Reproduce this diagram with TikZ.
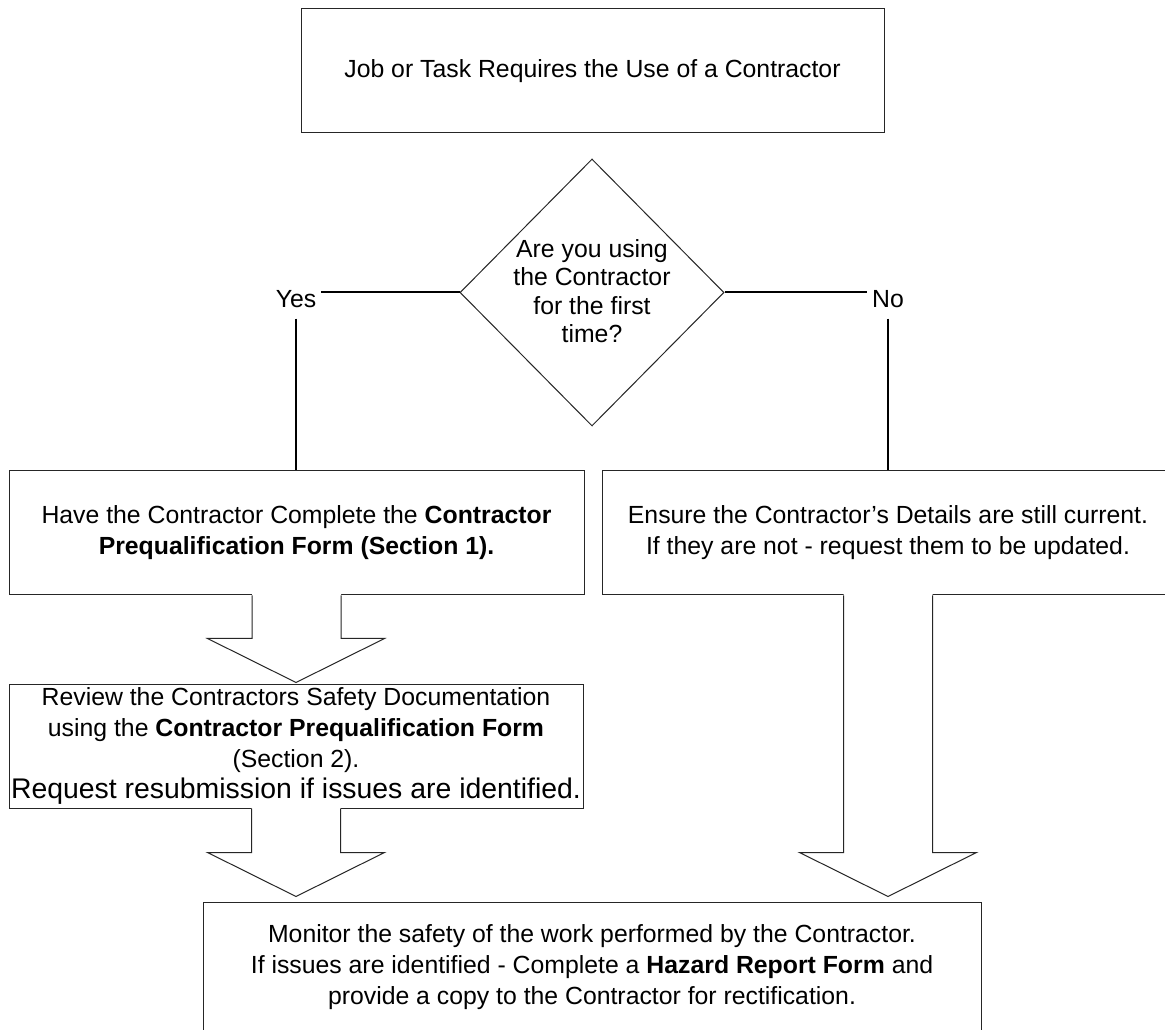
\documentclass[tikz,border=0pt]{standalone}
\usepackage{fontspec}
\setmainfont{Liberation Sans}
\usetikzlibrary{shapes.geometric,calc}
\newcommand{\mainsize}{\fontsize{18.6pt}{23.25pt}\selectfont}
\tikzset{
  box/.style={draw=black!85, line width=0.75pt, fill=white, align=center, inner sep=0pt, font=\mainsize},
  decision/.style={diamond, draw=black!85, line width=0.75pt, inner sep=0pt, minimum width=198pt, minimum height=200.25pt},
  qtext/.style={align=center, font=\fontsize{18.6pt}{21.4pt}\selectfont},
  conn/.style={draw=black, line width=1.5pt},
  lbl/.style={inner xsep=3.75pt, inner ysep=7.5pt, font=\mainsize},
  barrow/.style={draw=black!85, line width=0.75pt, line join=miter},
}
\newcommand{\blockarrow}[2]{%
  \path (#1) coordinate (ba-t) (#2) coordinate (ba-p);
  \path ($(ba-p)+(0,-44)$) coordinate (ba-h);
  \path (ba-t |- ba-h) coordinate (ba-s);
  \fill[white] ($(ba-t)+(-44.5,-1.5)$) -- ($(ba-s)+(-44.5,0)$) -- ($(ba-h)+(-88.5,0)$) -- (ba-p)
     -- ($(ba-h)+(88.5,0)$) -- ($(ba-s)+(44.5,0)$) -- ($(ba-t)+(44.5,-1.5)$) -- cycle;
  \draw[barrow] ($(ba-t)+(-44.5,0)$) -- ($(ba-s)+(-44.5,0)$) -- ($(ba-h)+(-88.5,0)$) -- (ba-p)
     -- ($(ba-h)+(88.5,0)$) -- ($(ba-s)+(44.5,0)$) -- ($(ba-t)+(44.5,0)$);
}
\begin{document}
\begin{tikzpicture}[x=0.75pt,y=-0.75pt]
\useasboundingbox (0,0) rectangle (1165,1030);
\fill[white] (0,0) rectangle (1165,1030);
\clip (0,0) rectangle (1165,1030);

% top box
\node[box, minimum width=437.25pt, minimum height=93pt] (start) at (592.5,71)
  {Job or Task Requires the Use of a Contractor};

% decision
\node[decision] (q) at (592,292.5) {};
\node[qtext] (qt) at (592,291) {Are you using\\the Contractor\\for the first\\time?};

% labels
\node[lbl, anchor=base] (yes) at (296,308) {Yes};
\node[lbl, anchor=base] (no) at (888,308) {No};

% second row
\node[box, minimum width=431.25pt, minimum height=93pt] (lbox) at (296.5,533)
  {Have the Contractor Complete the \textbf{Contractor}\\\textbf{Prequalification Form (Section 1).}};
\node[box, minimum width=429pt, minimum height=93pt] (rbox) at (888,533)
  {Ensure the Contractor’s Details are still current.\\If they are not - request them to be updated.};

% review box
\node[box, minimum width=430.5pt, minimum height=93pt] (rev) at (296,746)
  {Review the Contractors Safety Documentation\\using the \textbf{Contractor Prequalification Form}\\(Section 2).\\{\fontsize{21.3pt}{23.25pt}\selectfont Request resubmission if issues are identified.}};

% bottom box
\node[box, minimum width=583.5pt, minimum height=97.5pt] (bot) at (592,967)
  {Monitor the safety of the work performed by the Contractor.\\If issues are identified - Complete a \textbf{Hazard Report Form} and\\provide a copy to the Contractor for rectification.};

% connectors
\draw[conn] (q.west) -- (q.west -| yes.east);
\draw[conn] (yes.south) -- (yes.south |- lbox.north);
\draw[conn] (q.east) -- (q.east -| no.west);
\draw[conn] (no.south) -- (no.south |- rbox.north);

% block arrows
\coordinate (tip1) at ($(rev.north)+(0,-1)$);
\coordinate (tip2) at ($(bot.north -| rev.south)+(0,-5)$);
\coordinate (tip3) at ($(bot.north -| rbox.south)+(0,-5)$);
\blockarrow{lbox.south}{tip1}
\blockarrow{rev.south}{tip2}
\blockarrow{rbox.south}{tip3}
\end{tikzpicture}
\end{document}
